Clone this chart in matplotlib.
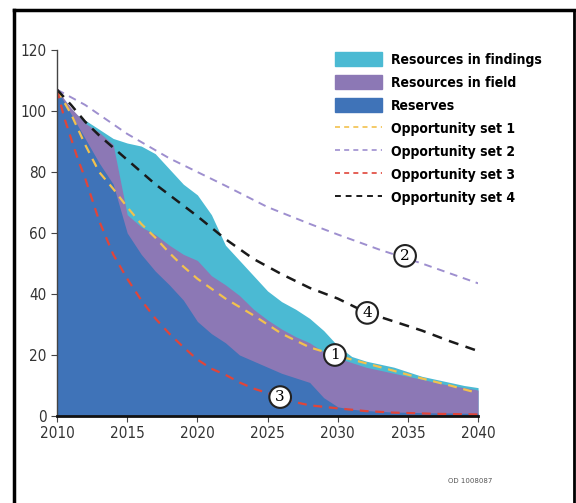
import matplotlib.pyplot as plt
from matplotlib.patches import Patch
from matplotlib.lines import Line2D

# Stacked areas (tops of each layer), yearly
years = list(range(2010, 2041))
reserves = [107, 99, 91, 83, 76, 60, 53, 47.5, 43, 38, 31, 27, 24, 20, 18, 16,
            14, 12.5, 11, 6, 3, 2.2, 1.8, 1.5, 1.3, 1.2, 1.1, 1.0, 1.0, 0.9, 0.9]
field_top = [107, 101, 96, 93, 89, 66, 62, 59.5, 56, 53, 51, 46, 43, 39.5, 35, 31.5,
             28.5, 26, 24, 21, 19, 17.5, 16, 15, 14, 13, 12, 11, 10, 9.3, 8.5]
total_top = [107, 100, 97, 94, 91, 89.5, 88.5, 86, 81, 76, 72.5, 66, 56, 51, 46, 41,
             37.5, 35, 32, 28, 23, 19.5, 18, 17, 16, 14.5, 13, 12, 11, 10, 9.3]

# Opportunity sets
opp1_x = [2010, 2011, 2012, 2013, 2014, 2015, 2016, 2017, 2018, 2019, 2020, 2022,
          2024, 2026, 2028, 2030, 2032, 2034, 2036, 2038, 2040]
opp1_y = [107, 99, 89, 80, 74.5, 68.5, 63, 58.5, 53.5, 49, 45, 38.5,
          33, 27, 22.5, 19.7, 17.3, 14.8, 12.3, 10, 7.5]
opp2_x = [2010, 2012, 2015, 2018, 2020, 2022, 2025, 2028, 2030, 2033, 2036, 2040]
opp2_y = [107, 102, 92.5, 84.5, 80, 75.5, 68.5, 63, 59.5, 54.5, 50, 43.5]
opp3_x = [2010, 2010.5, 2011, 2011.5, 2012, 2013, 2014, 2015, 2016, 2017, 2018, 2019,
          2020, 2021, 2022, 2023, 2024, 2025, 2026, 2027, 2028, 2030, 2032, 2034, 2037, 2040]
opp3_y = [107, 98, 91, 84, 78, 64, 53, 45, 38, 32, 27, 22.6,
          18.5, 15.5, 13.5, 11, 9, 7.5, 6, 4.5, 3.5, 2.5, 1.6, 1.1, 0.7, 0.5]
opp4_x = [2010, 2011, 2012, 2013, 2014, 2015, 2016, 2017, 2018, 2019, 2020, 2022,
          2024, 2026, 2028, 2030, 2032, 2034, 2036, 2038, 2040]
opp4_y = [107, 102, 96.5, 92, 88, 84, 80, 76, 72.5, 69, 65.5, 58,
          51.5, 46.5, 42, 38.5, 34, 31, 28, 24.5, 21.3]

# Circled labels on the curves
marker_labels = ['1', '2', '3', '4']
marker_x = [2029.8, 2034.8, 2025.9, 2032.1]
marker_y = [20, 52.5, 6.2, 33.8]

c_find = '#4bbad3'
c_field = '#8c78b5'
c_res = '#3f73b8'
c_o1 = '#f2c14e'
c_o2 = '#9e8fcf'
c_o3 = '#e0453a'
c_o4 = '#1a1a1a'

fig = plt.figure(figsize=(5.76, 5.03), dpi=100)
ax = fig.add_axes([0.099, 0.173, 0.731, 0.7276])

ax.fill_between(years, 0, total_top, color=c_find, lw=0)
ax.fill_between(years, 0, field_top, color=c_field, lw=0)
ax.fill_between(years, 0, reserves, color=c_res, lw=0)

ax.plot(opp1_x, opp1_y, color=c_o1, lw=1.6, dashes=(4, 3))
ax.plot(opp2_x, opp2_y, color=c_o2, lw=1.4, dashes=(4, 3))
ax.plot(opp3_x, opp3_y, color=c_o3, lw=1.6, dashes=(4, 3))
ax.plot(opp4_x, opp4_y, color=c_o4, lw=1.8, dashes=(4, 3))

for lab, x, y in zip(marker_labels, marker_x, marker_y):
    ax.text(x, y, lab, ha='center', va='center', fontsize=11, family='DejaVu Serif',
            bbox=dict(boxstyle='circle,pad=0.25', fc='white', ec='#222222', lw=1.5),
            zorder=5)

ax.set_xlim(2010, 2040)
ax.set_ylim(0, 120)
ax.set_xticks(range(2010, 2041, 5))
ax.set_yticks(range(0, 121, 20))
for sp in ['top', 'right']:
    ax.spines[sp].set_visible(False)
ax.spines['left'].set_color('#444444')
ax.spines['left'].set_linewidth(1.0)
ax.spines['bottom'].set_color('#111111')
ax.spines['bottom'].set_linewidth(2.0)
ax.tick_params(direction='out', length=4, colors='#444444', labelsize=11,
               labelcolor='#333333')
for t in ax.get_xticklabels() + ax.get_yticklabels():
    t.set_stretch('condensed')

handles = [Patch(color=c_find), Patch(color=c_field), Patch(color=c_res),
           Line2D([], [], color=c_o1, lw=1.2, dashes=(3, 2.5)),
           Line2D([], [], color=c_o2, lw=1.2, dashes=(3, 2.5)),
           Line2D([], [], color=c_o3, lw=1.2, dashes=(3, 2.5)),
           Line2D([], [], color=c_o4, lw=1.4, dashes=(3, 2.5))]
labels = ['Resources in findings', 'Resources in field', 'Reserves',
          'Opportunity set 1', 'Opportunity set 2', 'Opportunity set 3',
          'Opportunity set 4']
fig.legend(handles, labels, loc='upper left', bbox_to_anchor=(0.56, 0.922),
           frameon=False,
           prop={'family': 'DejaVu Sans', 'stretch': 'condensed', 'weight': 'bold', 'size': 10},
           handlelength=3.4, handleheight=1.2, labelspacing=0.6, handletextpad=0.6)

fig.text(0.777, 0.04, 'OD 1008087', fontsize=5, color='#555555', ha='left')

# outer frame
fig.add_artist(Line2D([14 / 576, 14 / 576], [0, 1 - 10 / 503], color='black', lw=2.5))
fig.add_artist(Line2D([14 / 576, 574 / 576], [1 - 10 / 503, 1 - 10 / 503], color='black', lw=2.5))
fig.add_artist(Line2D([574 / 576, 574 / 576], [0, 1 - 10 / 503], color='black', lw=2.0))

fig.savefig('out.png', dpi=100)
